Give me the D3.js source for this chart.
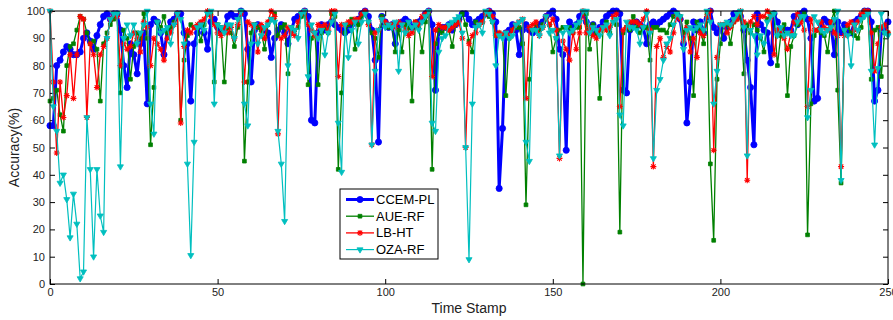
<!DOCTYPE html>
<html>
<head>
<meta charset="utf-8">
<script src="https://cdn.jsdelivr.net/npm/d3@7"></script>
<style>
  body { margin: 0; background: #fff; }
  svg { display: block; font-family: 'Liberation Sans', Arial, sans-serif; }
</style>
</head>
<body>
<svg id="chart" width="893" height="320"></svg>
<script>
// time stamps 0..250, one reading per stamp
const timeStamps = d3.range(0, 251);
const xTicks = [0, 50, 100, 150, 200, 250];
const yTicks = [0, 10, 20, 30, 40, 50, 60, 70, 80, 90, 100];

const ccemPL = [
	58, 58, 80, 82, 85, 87, 86, 84, 84, 85,
	90, 92, 89, 86, 91, 95, 98, 99, 97, 99,
	99, 93, 80, 72, 88, 84, 77, 88, 92, 66,
	95, 97, 96, 92, 84, 93, 96, 97, 99, 99,
	92, 88, 67, 88, 92, 95, 92, 86, 96, 97,
	94, 93, 93, 98, 99, 98, 98, 100, 99, 86,
	74, 93, 95, 94, 93, 92, 83, 90, 93, 95,
	92, 88, 93, 97, 98, 99, 100, 98, 60, 59,
	92, 95, 93, 95, 96, 95, 94, 93, 92, 93,
	95, 96, 97, 99, 100, 98, 93, 82, 52, 98,
	96, 94, 95, 88, 95, 96, 97, 96, 94, 95,
	96, 97, 99, 100, 95, 71, 93, 94, 94, 95,
	93, 95, 97, 99, 99, 97, 95, 96, 97, 98,
	99, 100, 99, 96, 35, 57, 92, 93, 95, 93,
	84, 93, 95, 93, 92, 93, 95, 96, 98, 99,
	100, 97, 86, 84, 49, 96, 94, 95, 98, 99,
	96, 93, 95, 92, 94, 96, 98, 99, 100, 100,
	99, 71, 70, 93, 95, 96, 95, 94, 88, 95,
	96, 95, 96, 97, 98, 99, 100, 99, 97, 88,
	59, 74, 96, 93, 96, 92, 97, 100, 94, 92,
	94, 90, 94, 96, 99, 99, 98, 93, 82, 72,
	51, 99, 95, 93, 92, 81, 99, 96, 93, 93,
	93, 93, 98, 95, 99, 100, 97, 90, 67, 68,
	95, 97, 96, 95, 84, 96, 92, 95, 92, 92,
	96, 97, 98, 100, 100, 96, 67, 71, 93, 94, 96
];

const aueRF = [
	67, 68, 71, 62, 56, 80, 87, 88, 93, 98,
	97, 92, 88, 89, 86, 67, 88, 92, 95, 97,
	99, 70, 93, 90, 75, 87, 92, 90, 99, 90,
	51, 72, 96, 94, 98, 92, 94, 96, 99, 60,
	82, 91, 95, 94, 94, 89, 95, 99, 99, 74,
	95, 94, 74, 94, 92, 87, 94, 100, 45, 74,
	92, 95, 94, 93, 86, 95, 97, 99, 91, 94,
	95, 77, 94, 93, 94, 98, 99, 73, 90, 92,
	73, 92, 94, 92, 99, 98, 42, 70, 92, 95,
	97, 86, 95, 98, 99, 96, 92, 90, 83, 98,
	95, 94, 95, 85, 93, 85, 95, 94, 67, 96,
	94, 85, 96, 99, 42, 88, 93, 92, 94, 93,
	87, 95, 97, 99, 95, 89, 85, 96, 95, 96,
	99, 98, 96, 91, 92, 91, 69, 90, 93, 94,
	94, 88, 29, 75, 93, 95, 93, 95, 97, 95,
	85, 90, 93, 94, 94, 94, 92, 94, 94, 0,
	99, 86, 95, 92, 68, 94, 96, 92, 96, 95,
	19, 92, 94, 93, 98, 94, 92, 94, 94, 82,
	94, 94, 93, 93, 92, 95, 98, 99, 98, 92,
	96, 90, 69, 96, 93, 88, 99, 44, 16, 75,
	88, 95, 95, 88, 96, 97, 99, 77, 95, 92,
	95, 93, 90, 85, 97, 99, 99, 80, 91, 95,
	69, 87, 91, 95, 97, 99, 18, 66, 91, 93,
	92, 91, 85, 96, 100, 71, 37, 93, 94, 92,
	91, 90, 94, 100, 99, 75, 93, 94, 76, 92, 92
];

const lbHT = [
	100, 74, 48, 74, 61, 69, 84, 68, 84, 98,
	97, 61, 88, 84, 72, 84, 87, 90, 97, 99,
	98, 80, 88, 86, 87, 92, 90, 85, 96, 94,
	80, 90, 88, 86, 82, 90, 92, 95, 99, 59,
	87, 93, 92, 94, 95, 96, 97, 100, 98, 95,
	92, 91, 94, 92, 94, 90, 95, 99, 74, 96,
	95, 94, 85, 95, 90, 96, 100, 98, 55, 90,
	91, 94, 92, 91, 96, 99, 100, 95, 93, 91,
	95, 94, 95, 93, 100, 100, 76, 95, 95, 96,
	96, 97, 97, 99, 100, 95, 51, 92, 93, 97,
	96, 95, 95, 94, 96, 95, 93, 91, 92, 96,
	95, 98, 99, 100, 76, 93, 95, 94, 94, 93,
	94, 95, 96, 90, 50, 88, 91, 92, 95, 96,
	99, 100, 98, 91, 92, 91, 92, 91, 93, 95,
	96, 97, 68, 94, 95, 96, 91, 94, 98, 95,
	97, 93, 46, 89, 86, 82, 92, 86, 92, 100,
	92, 94, 91, 90, 93, 94, 93, 94, 98, 99,
	65, 93, 94, 96, 96, 96, 95, 97, 100, 93,
	43, 87, 90, 83, 87, 85, 92, 98, 97, 89,
	94, 85, 90, 83, 92, 91, 98, 100, 49, 83,
	95, 95, 92, 94, 96, 97, 100, 96, 38, 96,
	98, 95, 98, 98, 100, 98, 84, 93, 93, 90,
	86, 92, 96, 99, 96, 93, 65, 97, 93, 93,
	96, 94, 93, 96, 92, 91, 43, 91, 95, 96,
	93, 96, 99, 100, 100, 92, 78, 88, 94, 95, 92
];

const ozaRF = [
	100, 65, 56, 37, 40, 31, 17, 33, 22, 2,
	4.5, 61, 42, 10, 42, 25, 19, 90, 97, 99,
	99, 43, 90, 95, 91, 95, 88, 92, 95, 100,
	66, 55, 96, 92, 93, 94, 88, 95, 99, 97,
	88, 44, 10.5, 52, 94, 95, 93, 99, 100, 66,
	95, 94, 92, 95, 95, 90, 97, 100, 66, 58,
	88, 95, 88, 91, 94, 95, 97, 96, 56, 44,
	23, 80, 94, 93, 90, 99, 100, 76, 95, 92,
	90, 93, 84, 92, 96, 99, 59, 41, 95, 83,
	93, 96, 88, 96, 99, 96, 51, 78, 93, 97,
	94, 95, 94, 96, 78, 95, 92, 96, 94, 95,
	93, 96, 98, 100, 59, 56, 85, 90, 91, 95,
	96, 97, 98, 92, 50, 9, 66, 94, 95, 92,
	100, 99, 96, 80, 91, 90, 92, 90, 91, 95,
	96, 97, 52, 45, 93, 93, 91, 94, 98, 92,
	93, 90, 47, 92, 94, 92, 93, 95, 96, 100,
	100, 92, 94, 93, 91, 94, 95, 91, 96, 97,
	62, 58, 96, 94, 94, 93, 88, 94, 99, 92,
	46, 71, 75, 82, 88, 90, 95, 99, 98, 86,
	93, 94, 93, 94, 95, 93, 100, 96, 66, 78,
	95, 95, 96, 95, 97, 99, 100, 94, 47, 93,
	91, 84, 91, 88, 96, 98, 99, 91, 94, 91,
	92, 91, 91, 96, 98, 98, 61, 71, 98, 96,
	93, 92, 93, 94, 97, 100, 38, 93, 91, 80,
	95, 93, 97, 98, 99, 78, 51, 79, 99, 92, 91
];

const seriesNames = ['CCEM-PL', 'AUE-RF', 'LB-HT', 'OZA-RF'];

const series = [
	{ name: seriesNames[0], values: ccemPL, color: '#0000ff', lineWidth: 3, marker: 'circle' },
	{ name: seriesNames[1], values: aueRF, color: '#008000', lineWidth: 1.3, marker: 'square' },
	{ name: seriesNames[2], values: lbHT, color: '#ff0000', lineWidth: 1.3, marker: 'star' },
	{ name: seriesNames[3], values: ozaRF, color: '#00bfbf', lineWidth: 1.2, marker: 'triangle' }
];

const svg = d3.select('#chart');
const plot = { left: 50, right: 888, top: 11, bottom: 284 };

const x = d3.scaleLinear().domain([0, 250]).range([plot.left, plot.right]);
const y = d3.scaleLinear().domain([0, 100]).range([plot.bottom, plot.top]);

const markerPath = {
	circle: d3.symbol(d3.symbolCircle, 30)(),
	square: d3.symbol(d3.symbolSquare, 14)(),
	triangle: d3.symbol(d3.symbolTriangle, 16)(),
	star: 'M-3,0L3,0M0,-3L0,3M-2.2,-2.2L2.2,2.2M-2.2,2.2L2.2,-2.2'
};

function addMarkers(sel, s) {
	sel.append('path')
		.attr('d', markerPath[s.marker])
		.attr('fill', s.marker === 'star' ? 'none' : s.color)
		.attr('stroke', s.color)
		.attr('stroke-width', s.marker === 'star' ? 1.1 : 0.8)
		.attr('transform', function() {
			const t = d3.select(this.parentNode).attr('data-t');
			return t + (s.marker === 'triangle' ? ' rotate(180)' : '');
		});
}

// axes (ticks pointing inward, MATLAB box style)
const xAxis = svg.append('g')
	.attr('transform', `translate(0,${plot.bottom})`)
	.call(d3.axisBottom(x).tickValues(xTicks).tickSizeInner(-5).tickSizeOuter(0).tickPadding(4));
const yAxis = svg.append('g')
	.attr('transform', `translate(${plot.left},0)`)
	.call(d3.axisLeft(y).tickValues(yTicks).tickSizeInner(-5).tickSizeOuter(0).tickPadding(5));
svg.append('g')
	.attr('transform', `translate(0,${plot.top})`)
	.call(d3.axisTop(x).tickValues(xTicks).tickSizeInner(-5).tickSizeOuter(0).tickFormat(''));
svg.append('g')
	.attr('transform', `translate(${plot.right},0)`)
	.call(d3.axisRight(y).tickValues(yTicks).tickSizeInner(-5).tickSizeOuter(0).tickFormat(''));

svg.selectAll('.domain').remove();
svg.selectAll('.tick line').attr('stroke', '#000');
svg.selectAll('.tick text')
	.attr('fill', '#222')
	.style('font-size', '11px')
	.style('font-family', "'Liberation Sans', Arial, sans-serif");

// series lines
const line = d3.line()
	.x((d, i) => x(timeStamps[i]))
	.y(d => y(d));

series.forEach(s => {
	const g = svg.append('g');
	g.append('path')
		.datum(s.values)
		.attr('fill', 'none')
		.attr('stroke', s.color)
		.attr('stroke-width', s.lineWidth)
		.attr('stroke-linejoin', 'round')
		.attr('d', line);

	g.selectAll('.pt')
		.data(s.values)
		.enter().append('g')
		.attr('class', 'pt')
		.attr('data-t', (d, i) => `translate(${x(timeStamps[i])},${y(d)})`)
		.call(addMarkers, s);
});

// box
svg.append('rect')
	.attr('x', plot.left)
	.attr('y', plot.top)
	.attr('width', plot.right - plot.left)
	.attr('height', plot.bottom - plot.top)
	.attr('fill', 'none')
	.attr('stroke', '#000')
	.attr('stroke-width', 1);

// axis titles
svg.append('text')
	.attr('x', (plot.left + plot.right) / 2)
	.attr('y', 313)
	.attr('text-anchor', 'middle')
	.attr('fill', '#222')
	.style('font-size', '14px')
	.text('Time Stamp');

svg.append('text')
	.attr('transform', `translate(19,${(plot.top + plot.bottom) / 2}) rotate(-90)`)
	.attr('text-anchor', 'middle')
	.attr('fill', '#222')
	.style('font-size', '14px')
	.text('Accuracy(%)');

// legend
const legend = svg.append('g').attr('transform', 'translate(340,189)');
legend.append('rect')
	.attr('width', 98)
	.attr('height', 70)
	.attr('fill', '#fff')
	.attr('stroke', '#000')
	.attr('stroke-width', 1);

series.forEach((s, i) => {
	const ly = 10.5 + i * 16.7;
	const row = legend.append('g');
	row.append('line')
		.attr('x1', 6).attr('x2', 34)
		.attr('y1', ly).attr('y2', ly)
		.attr('stroke', s.color)
		.attr('stroke-width', s.lineWidth);
	row.append('g')
		.attr('data-t', `translate(20,${ly})`)
		.call(addMarkers, s);
	row.append('text')
		.attr('x', 36)
		.attr('y', ly + 4.5)
		.attr('fill', '#000')
		.style('font-size', '13px')
		.text(s.name);
});
</script>
</body>
</html>
